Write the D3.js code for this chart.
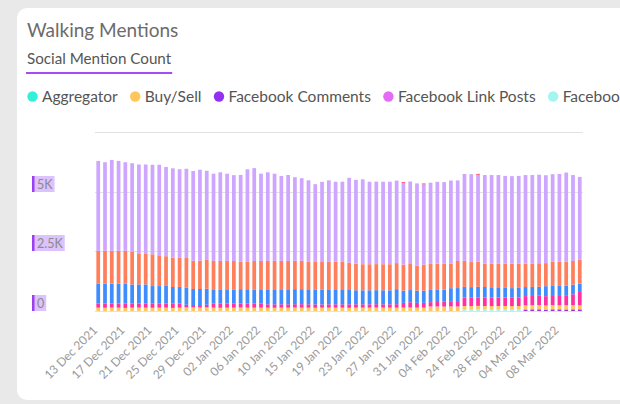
<!DOCTYPE html>
<html>
<head>
<meta charset="utf-8">
<script src="https://cdn.jsdelivr.net/npm/d3@7"></script>
<style>
  body { margin: 0; background: #e9e9e9; overflow: hidden; }
  svg { display: block; font-family: Lato, "Open Sans", sans-serif; }
</style>
</head>
<body>
<div id="chart"></div>
<script>
// one bar per day (a few days have no data)
var dates = [
  "13 Dec 2021", "14 Dec 2021", "15 Dec 2021", "16 Dec 2021", "17 Dec 2021", "18 Dec 2021",
  "19 Dec 2021", "20 Dec 2021", "21 Dec 2021", "22 Dec 2021", "23 Dec 2021", "24 Dec 2021",
  "25 Dec 2021", "26 Dec 2021", "27 Dec 2021", "28 Dec 2021", "29 Dec 2021", "30 Dec 2021",
  "31 Dec 2021", "01 Jan 2022", "02 Jan 2022", "03 Jan 2022", "04 Jan 2022", "05 Jan 2022",
  "06 Jan 2022", "07 Jan 2022", "08 Jan 2022", "09 Jan 2022", "10 Jan 2022", "11 Jan 2022",
  "12 Jan 2022", "14 Jan 2022", "15 Jan 2022", "16 Jan 2022", "17 Jan 2022", "18 Jan 2022",
  "19 Jan 2022", "20 Jan 2022", "21 Jan 2022", "22 Jan 2022", "23 Jan 2022", "24 Jan 2022",
  "25 Jan 2022", "26 Jan 2022", "27 Jan 2022", "28 Jan 2022", "29 Jan 2022", "30 Jan 2022",
  "31 Jan 2022", "01 Feb 2022", "02 Feb 2022", "03 Feb 2022", "04 Feb 2022", "05 Feb 2022",
  "22 Feb 2022", "23 Feb 2022", "24 Feb 2022", "25 Feb 2022", "26 Feb 2022", "27 Feb 2022",
  "28 Feb 2022", "01 Mar 2022", "02 Mar 2022", "03 Mar 2022", "04 Mar 2022", "05 Mar 2022",
  "06 Mar 2022", "07 Mar 2022", "08 Mar 2022", "09 Mar 2022", "10 Mar 2022", "11 Mar 2022"
];

// legend (alphabetical, runs off the card on the right)
var legendNames = ["Aggregator", "Buy/Sell", "Facebook Comments", "Facebook Link Posts",
  "Facebook Posts", "Forums", "News", "Reddit", "Twitter", "YouTube"];
var legendColours = ["#33f0da", "#ffc65c", "#9430f2", "#e46cf5",
  "#a4f5f0", "#ff2fa4", "#3f8cff", "#ff7f5c", "#cfa6ff", "#ff4f6a"];

// series values, bottom of the stack first
var fbComments = [
  0, 0, 0, 0, 0, 0, 0, 0, 0, 0, 0, 0,
  0, 0, 0, 0, 0, 0, 0, 0, 0, 0, 0, 0,
  0, 0, 0, 0, 0, 0, 0, 0, 0, 0, 0, 0,
  0, 0, 0, 0, 0, 0, 0, 0, 0, 0, 0, 0,
  0, 0, 0, 0, 0, 0, 0, 0, 0, 0, 0, 0,
  0, 0, 0, 65, 70, 70, 60, 70, 70, 65, 70, 70
];
var fbPosts = [
  0, 0, 0, 0, 0, 0, 0, 0, 0, 0, 0, 0,
  0, 0, 0, 0, 0, 0, 0, 0, 0, 0, 0, 0,
  0, 0, 0, 0, 0, 0, 0, 0, 0, 0, 0, 0,
  0, 0, 0, 0, 0, 0, 0, 0, 0, 0, 0, 0,
  0, 0, 0, 0, 0, 0, 60, 55, 60, 60, 55, 60,
  60, 55, 60, 0, 0, 0, 0, 0, 0, 0, 0, 0
];
var buySell = [
  140, 135, 145, 140, 130, 140, 145, 140, 135, 140, 140, 130,
  140, 150, 150, 145, 150, 140, 135, 140, 140, 145, 140, 140,
  140, 140, 135, 140, 140, 145, 140, 140, 135, 140, 140, 140,
  140, 135, 140, 140, 140, 145, 140, 140, 140, 140, 145, 140,
  140, 190, 190, 185, 190, 190, 150, 150, 155, 150, 150, 150,
  150, 150, 150, 170, 170, 175, 170, 170, 170, 175, 170, 170
];
var forums = [
  170, 175, 165, 170, 180, 170, 170, 175, 170, 165, 170, 175,
  170, 110, 100, 105, 110, 170, 175, 170, 165, 170, 170, 165,
  170, 140, 145, 140, 140, 140, 145, 140, 140, 135, 140, 140,
  140, 145, 140, 140, 140, 140, 140, 140, 145, 200, 220, 200,
  200, 180, 225, 220, 220, 225, 355, 350, 355, 350, 355, 350,
  355, 350, 355, 390, 390, 395, 390, 390, 390, 395, 460, 560
];
var news = [
  842, 842, 842, 842, 842, 800, 800, 800, 740, 740, 740, 700,
  700, 727, 672, 672, 672, 600, 600, 600, 600, 600, 600, 600,
  600, 630, 630, 630, 630, 630, 630, 630, 630, 630, 630, 630,
  630, 630, 588, 588, 588, 588, 588, 588, 630, 512, 512, 512,
  512, 512, 491, 491, 546, 546, 445, 445, 445, 445, 403, 403,
  403, 403, 403, 378, 378, 378, 420, 420, 420, 420, 407, 353
];
var reddit = [
  1369, 1369, 1369, 1369, 1369, 1369, 1273, 1273, 1331, 1289, 1247, 1235,
  1235, 1235, 1189, 1189, 1231, 1189, 1189, 1189, 1189, 1147, 1147, 1189,
  1189, 1189, 1189, 1189, 1189, 1189, 1189, 1147, 1147, 1147, 1147, 1147,
  1147, 1113, 1113, 1092, 1092, 1092, 1092, 1092, 1092, 1092, 1092, 1050,
  1092, 1092, 1079, 1079, 1025, 1134, 1092, 1050, 1050, 983, 1025, 1025,
  1025, 1025, 1025, 983, 983, 983, 966, 1016, 1008, 1008, 991, 1008
];
var twitter = [
  3767, 3713, 3809, 3767, 3713, 3713, 3751, 3751, 3751, 3793, 3738, 3738,
  3696, 3738, 3755, 3809, 3713, 3654, 3713, 3654, 3599, 3641, 3881, 3893,
  3654, 3713, 3654, 3557, 3599, 3503, 3461, 3419, 3263, 3360, 3419, 3360,
  3360, 3557, 3515, 3557, 3457, 3457, 3457, 3457, 3457, 3415, 3457, 3444,
  3360, 3402, 3427, 3427, 3486, 3377, 3641, 3683, 3641, 3709, 3709, 3709,
  3667, 3667, 3667, 3709, 3709, 3709, 3683, 3667, 3683, 3738, 3599, 3457
];
var youtube = [
  0, 0, 0, 0, 0, 0, 0, 0, 0, 0, 0, 0,
  0, 0, 0, 0, 0, 0, 0, 0, 0, 0, 0, 0,
  0, 0, 0, 0, 0, 0, 0, 0, 0, 0, 0, 0,
  0, 0, 0, 0, 0, 0, 0, 0, 0, 40, 0, 0,
  40, 0, 0, 0, 0, 0, 0, 0, 40, 0, 0, 0,
  0, 0, 0, 0, 0, 0, 0, 0, 0, 0, 0, 0
];

var yTicks = [0, 2500, 5000, 7500];

var stackKeys = ["Facebook Comments", "Facebook Posts", "Buy/Sell", "Forums", "News", "Reddit", "Twitter", "YouTube"];
var seriesByKey = {
  "Facebook Comments": fbComments,
  "Facebook Posts": fbPosts,
  "Buy/Sell": buySell,
  "Forums": forums,
  "News": news,
  "Reddit": reddit,
  "Twitter": twitter,
  "YouTube": youtube
};

var table = dates.map(function(d, i) {
  var row = { date: d };
  stackKeys.forEach(function(k) { row[k] = seriesByKey[k][i]; });
  return row;
});

var colour = d3.scaleOrdinal().domain(legendNames).range(legendColours);

var W = 620, H = 404;
var plot = { left: 95, right: 583, top: 132, bottom: 311 };

var svg = d3.select("#chart").append("svg")
  .attr("width", W)
  .attr("height", H);

// card
svg.append("rect")
  .attr("x", 17).attr("y", 8)
  .attr("width", 720).attr("height", 392)
  .attr("rx", 10)
  .attr("fill", "#fff");

svg.append("text")
  .attr("x", 27).attr("y", 37)
  .attr("font-size", 19)
  .attr("fill", "#6b6b6b")
  .text("Walking Mentions");

var sub = svg.append("text")
  .attr("x", 27).attr("y", 64)
  .attr("font-size", 15.2)
  .attr("fill", "#555")
  .text("Social Mention Count");
var subW = sub.node().getComputedTextLength();
svg.append("rect")
  .attr("x", 26).attr("y", 72)
  .attr("width", subW + 2).attr("height", 2)
  .attr("fill", "#a64cf5");

// legend - stops where the window ends, the last item is cut like in the app
var lx = 27;
legendNames.forEach(function(name) {
  if (lx > W) return;
  svg.append("circle")
    .attr("cx", lx + 5.5).attr("cy", 96.5)
    .attr("r", 5.2)
    .attr("fill", colour(name));
  var t = svg.append("text")
    .attr("x", lx + 15).attr("y", 101.5)
    .attr("font-size", 15.5)
    .attr("fill", "#555")
    .text(name);
  lx += 15 + t.node().getComputedTextLength() + 12;
});

var x = d3.scaleBand()
  .domain(dates)
  .range([plot.left, plot.right])
  .paddingInner(0.45)
  .paddingOuter(0.2);

var y = d3.scaleLinear()
  .domain([0, 7500])
  .range([plot.bottom, plot.top]);

// grid
svg.append("g").selectAll("line")
  .data(yTicks)
  .enter().append("line")
  .attr("x1", plot.left).attr("x2", plot.right)
  .attr("y1", function(d) { return Math.round(y(d)) + 0.5; })
  .attr("y2", function(d) { return Math.round(y(d)) + 0.5; })
  .attr("stroke", "#e2e2e2")
  .attr("stroke-width", 1);

// y labels with highlighted boxes
var yLab = svg.append("g").selectAll("g")
  .data(yTicks.filter(function(d) { return d < 7500; }))
  .enter().append("g")
  .attr("transform", function(d) { return "translate(32," + (Math.round(y(d)) - 16) + ")"; });

yLab.each(function(d) {
  var g = d3.select(this);
  var bg = g.append("rect").attr("height", 16).attr("fill", "#dcc3fd");
  g.append("rect").attr("width", 2.5).attr("height", 16).attr("fill", "#9b3ff2");
  var t = g.append("text")
    .attr("x", 5).attr("y", 12.5)
    .attr("font-size", 12.5)
    .attr("fill", "#8a8a8a")
    .text(d === 0 ? "0" : d / 1000 + "K");
  bg.attr("width", t.node().getComputedTextLength() + 7);
});

// bars
var stacked = d3.stack().keys(stackKeys)(table);

svg.append("g").selectAll("g")
  .data(stacked)
  .enter().append("g")
  .attr("fill", function(d) { return colour(d.key); })
  .selectAll("rect")
  .data(function(d) { return d; })
  .enter().append("rect")
  .attr("x", function(d) { return x(d.data.date); })
  .attr("width", x.bandwidth())
  .attr("y", function(d) { return y(d[1]); })
  .attr("height", function(d) { return y(d[0]) - y(d[1]); });

// x labels, every 4th day
svg.append("g").selectAll("text")
  .data(dates.filter(function(d, i) { return i % 4 === 0; }))
  .enter().append("text")
  .attr("transform", function(d) {
    return "translate(" + (x(d) + x.bandwidth() / 2) + "," + 331 + ") rotate(-45)";
  })
  .attr("text-anchor", "end")
  .attr("font-size", 12)
  .attr("fill", "#9a9a9a")
  .text(function(d) { return d; });
</script>
</body>
</html>
